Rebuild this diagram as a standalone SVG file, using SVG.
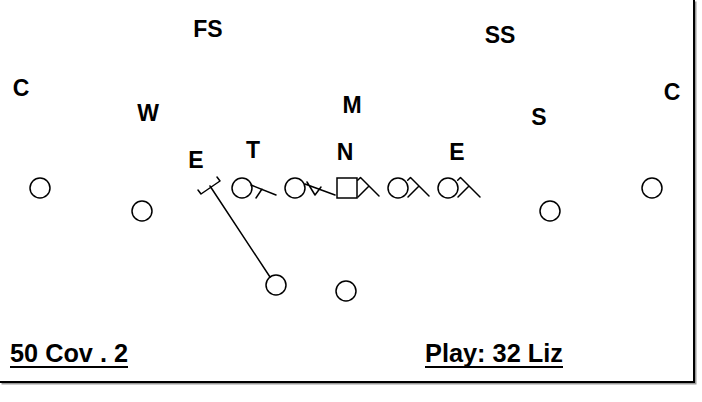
<svg xmlns="http://www.w3.org/2000/svg" width="702" height="402" viewBox="0 0 702 402">
<style>
.lbl{font-family:"Liberation Sans",Arial,sans-serif;font-weight:bold;font-size:23px;fill:#000;text-anchor:middle}
.cap{font-family:"Liberation Sans",Arial,sans-serif;font-weight:bold;font-size:26px;fill:#000}
.pl{fill:#fff;stroke:#000;stroke-width:1.5}
.ln{fill:none;stroke:#000;stroke-width:1.5;stroke-linecap:round;stroke-linejoin:round}
</style>
<rect width="702" height="402" fill="#fff"/>
<g id="frame">
<polyline points="694,0 694,382 0,382" fill="none" stroke="#999" stroke-width="2" transform="translate(1.5,1.5)"/>
<polyline points="694,0 694,382 0,382" fill="none" stroke="#000" stroke-width="2"/>
</g>
<g id="defense">
<text id="d-fs" class="lbl" x="208" y="37">FS</text>
<text id="d-ss" class="lbl" x="500" y="43">SS</text>
<text id="d-cl" class="lbl" x="21" y="96">C</text>
<text id="d-w" class="lbl" x="148" y="121">W</text>
<text id="d-m" class="lbl" x="352" y="113">M</text>
<text id="d-s" class="lbl" x="539" y="125">S</text>
<text id="d-cr" class="lbl" x="672" y="100">C</text>
<text id="d-el" class="lbl" x="196" y="168">E</text>
<text id="d-t" class="lbl" x="253" y="158">T</text>
<text id="d-n" class="lbl" x="345" y="160">N</text>
<text id="d-er" class="lbl" x="457" y="160">E</text>
</g>
<g id="offense">
<circle id="o-wl" class="pl" cx="40" cy="188" r="10"/>
<circle id="o-te" class="pl" cx="142" cy="211" r="10"/>
<circle id="o-lt" class="pl" cx="242" cy="188" r="10"/>
<circle id="o-lg" class="pl" cx="295" cy="188" r="10"/>
<rect id="o-c" class="pl" x="337" y="178" width="20" height="20"/>
<circle id="o-rg" class="pl" cx="398" cy="188" r="10"/>
<circle id="o-rt" class="pl" cx="448" cy="188" r="10"/>
<circle id="o-sb" class="pl" cx="550" cy="211" r="10"/>
<circle id="o-wr" class="pl" cx="652" cy="188" r="10"/>
<circle id="o-hb" class="pl" cx="276" cy="285" r="10"/>
<circle id="o-fb" class="pl" cx="346" cy="291" r="10"/>
</g>
<g id="connectors">
<path class="ln" d="M270,277 L210,186 M198,190 L201,194 L220,181 L217,177"/>
<path class="ln" d="M251,185 L276,195 M256,198 L262,189"/>
<path class="ln" d="M305,184 L335,195 M307,182 L315,195 L321,187"/>
<path class="ln" d="M358,197 L369,186 M357.7,180.3 L360.5,177.5 L379,196"/>
<path class="ln" d="M408,197 L419,186 M407.7,180.3 L410.5,177.5 L429,196"/>
<path class="ln" d="M458,197 L469,186 M457.7,180.3 L460.5,177.5 L480,197"/>
</g>
<g id="captions">
<text id="cap-l" class="cap" x="10" y="362" textLength="118" lengthAdjust="spacingAndGlyphs">50 Cov . 2</text>
<line x1="10" y1="367" x2="128" y2="367" stroke="#000" stroke-width="2"/>
<text id="cap-r" class="cap" x="425" y="362" textLength="138" lengthAdjust="spacingAndGlyphs">Play: 32 Liz</text>
<line x1="425" y1="367" x2="563" y2="367" stroke="#000" stroke-width="2"/>
</g>
</svg>
